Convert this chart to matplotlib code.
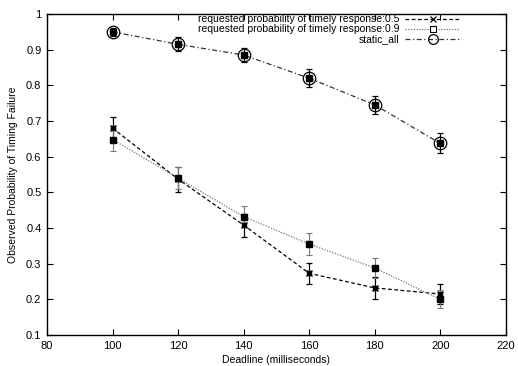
import matplotlib
matplotlib.use("Agg")
import matplotlib.pyplot as plt

plt.rcParams['font.family'] = ['Liberation Sans', 'DejaVu Sans']

# Data
deadlines = [100, 120, 140, 160, 180, 200]
p05 = [0.680, 0.537, 0.408, 0.273, 0.232, 0.215]
p05_err = [0.030, 0.035, 0.032, 0.030, 0.030, 0.028]
p09 = [0.648, 0.540, 0.432, 0.355, 0.288, 0.200]
p09_err = [0.032, 0.032, 0.030, 0.030, 0.028, 0.025]
static_all = [0.950, 0.915, 0.885, 0.820, 0.745, 0.637]
static_err = [0.012, 0.020, 0.020, 0.025, 0.025, 0.028]

labels = ["requested probability of timely response:0.5",
          "requested probability of timely response:0.9",
          "static_all"]

fig = plt.figure(figsize=(5.18, 3.66), dpi=100)
ax = fig.add_axes([0.0907, 0.0847, 0.886, 0.877])

# error bars
ax.errorbar(deadlines, p05, yerr=p05_err, fmt='none', ecolor='black',
            elinewidth=0.9, capsize=2.5, capthick=0.9)
ax.errorbar(deadlines, p09, yerr=p09_err, fmt='none', ecolor='#777777',
            elinewidth=0.8, capsize=2.5, capthick=0.8, linestyle=':')
ax.errorbar(deadlines, static_all, yerr=static_err, fmt='none', ecolor='black',
            elinewidth=0.9, capsize=2.5, capthick=0.9)

# lines
ax.plot(deadlines, p05, color='black', linestyle=(0, (3, 2)), linewidth=0.9,
        marker='x', markersize=5, markeredgewidth=1.0)
ax.plot(deadlines, p09, color='#777777', linestyle=(0, (1, 1.2)), linewidth=0.9,
        marker='s', markersize=4.5, markerfacecolor='black', markeredgecolor='black')
ax.plot(deadlines, static_all, color='#333333', linestyle=(0, (4, 2, 1, 2)),
        linewidth=0.9, marker='o', markersize=9, markerfacecolor='none',
        markeredgecolor='black', markeredgewidth=0.9)
# filled centres
ax.plot(deadlines, static_all, linestyle='none', marker='s', markersize=4.5,
        color='black')
ax.plot(deadlines, p05, linestyle='none', marker='s', markersize=3, color='black')

# legend handles (smaller markers, as in the original)
h1, = ax.plot([], [], color='black', linestyle=(0, (3, 2)), linewidth=0.9,
              marker='x', markersize=4, markeredgewidth=0.9)
h2, = ax.plot([], [], color='#777777', linestyle=(0, (1, 1.2)), linewidth=0.9,
              marker='s', markersize=4, markerfacecolor='white',
              markeredgecolor='black', markeredgewidth=0.8)
h3, = ax.plot([], [], color='#333333', linestyle=(0, (4, 2, 1, 2)), linewidth=0.9,
              marker='o', markersize=7, markerfacecolor='none',
              markeredgecolor='black', markeredgewidth=0.9)

ax.set_xlim(80, 220)
ax.set_ylim(0.1, 1.0)
ax.set_xticks(range(80, 221, 20))
ax.set_yticks([0.1, 0.2, 0.3, 0.4, 0.5, 0.6, 0.7, 0.8, 0.9, 1.0])
ax.set_yticklabels(['0.1', '0.2', '0.3', '0.4', '0.5', '0.6', '0.7', '0.8', '0.9', '1'])
ax.tick_params(direction='in', top=True, right=True, labelsize=8, length=4, width=0.8, pad=4)
for s in ax.spines.values():
    s.set_linewidth(1.0)

ax.set_xlabel('Deadline (milliseconds)', fontsize=7.5, labelpad=3)
ax.set_ylabel('Observed Probability of Timing Failure', fontsize=7.5, labelpad=6)

leg = ax.legend(handles=[h1, h2, h3], labels=labels, loc='upper right', frameon=False,
                markerfirst=False, fontsize=7.5, handlelength=5.3,
                borderaxespad=0.0, borderpad=0.2, labelspacing=0.0, handletextpad=0.5,
                bbox_to_anchor=(0.905, 1.006))
for t in leg.get_texts():
    t.set_ha('right')
leg._legend_box.align = 'right'

fig.savefig('out.png', dpi=100)
